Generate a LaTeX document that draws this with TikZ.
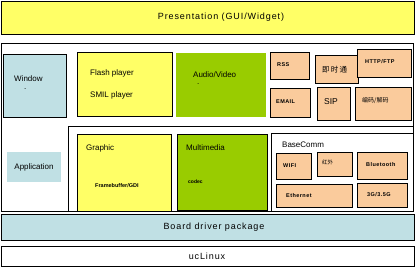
\documentclass[tikz,border=0pt]{standalone}
\usepackage{fontspec}
\setmainfont{Liberation Sans}
\newfontfamily\cjk{Noto Sans CJK SC}
\newfontfamily\spaced{Liberation Sans}[LetterSpace=10]
\newfontfamily\spacedb{Liberation Sans}[LetterSpace=8]
\definecolor{cyel}{HTML}{FFFF66}
\definecolor{cgrn}{HTML}{99CC00}
\definecolor{cblu}{HTML}{C0E0E4}
\definecolor{corg}{HTML}{FACB9C}
\begin{document}
\begin{tikzpicture}[x=1pt,y=-1pt,
  bx/.style={draw=black, line width=0.8pt, inner sep=0pt, anchor=north west},
  nb/.style={inner sep=0pt, anchor=north west},
  lbl/.style={inner sep=0pt, anchor=west, font=\fontsize{8}{9}\selectfont},
  big/.style={inner sep=0pt, font=\spaced\fontsize{9}{10}\selectfont},
  tiny/.style={inner sep=0pt, anchor=west, font=\spacedb\bfseries\fontsize{5.5}{6}\selectfont},
  orb/.style={bx, fill=corg}]
\useasboundingbox (0,0) rectangle (416,267);
% top
\node[bx, fill=cyel, minimum width=413pt, minimum height=33pt] (pres) at (1,1) {};
\node[big] (prest) at (221,17.5) {Presentation (GUI/Widget)};
% main outer
\node[bx, fill=white, minimum width=412pt, minimum height=168pt] (outer) at (1,43) {};
\node[bx, fill=white, minimum width=345pt, minimum height=85pt] (inner) at (68,126) {};
% left column
\node[bx, fill=cblu, minimum width=63pt, minimum height=63pt] (win) at (3,54) {};
\node[lbl] (wint) at (14,79) {Window};
\node[lbl] (windot) at (24,89) {.};
\node[nb, fill=cblu, minimum width=54pt, minimum height=30pt] (app) at (7,152) {};
\node[inner sep=0pt, font=\fontsize{8}{9}\selectfont] (appt) at (34,167) {Application};
% flash
\node[bx, fill=cyel, minimum width=95pt, minimum height=64pt] (flash) at (77,52) {};
\node[lbl] (flt) at (90,73.5) {Flash player};
\node[lbl] (smt) at (90,95.5) {SMIL player};
% audio video
\node[nb, fill=cgrn, minimum width=90pt, minimum height=64pt] (av) at (176,53) {};
\node[lbl] (avt) at (193,74.5) {Audio/Video};
\node[lbl] (avdot) at (197,84) {.};
% protocols
\node[orb, minimum width=39pt, minimum height=27pt] (rss) at (270,52) {};
\node[tiny] (rsst) at (277,64.5) {RSS};
\node[orb, minimum width=43pt, minimum height=28pt] (im) at (315,55) {};
\node[inner sep=0pt, anchor=west, font=\cjk\fontsize{7.5}{8}\selectfont] (imt) at (322,70) {即\,时\,通};
\node[orb, minimum width=54pt, minimum height=28pt] (http) at (357,49) {};
\node[tiny] (httpt) at (365,62) {HTTP/FTP};
\node[orb, minimum width=40pt, minimum height=29pt] (mail) at (270,88) {};
\node[tiny] (mailt) at (276,102) {EMAIL};
\node[orb, minimum width=33pt, minimum height=33pt] (sip) at (317,87) {};
\node[inner sep=0pt, anchor=west, font=\fontsize{8.5}{9}\selectfont] (sipt) at (324,102) {SIP};
\node[orb, minimum width=56pt, minimum height=33pt] (codec) at (355,87) {};
\node[inner sep=0pt, anchor=west, font=\cjk\fontsize{6}{7}\selectfont] (codect) at (362,101) {编码/解码};
% graphic
\node[bx, fill=cyel, minimum width=94pt, minimum height=77pt] (gra) at (77,134) {};
\node[lbl] (grat) at (86,148) {Graphic};
\node[inner sep=0pt, anchor=west, font=\bfseries\fontsize{5.5}{6}\selectfont] (fbt) at (95,186) {Framebuffer/GDI};
% multimedia
\node[bx, fill=cgrn, minimum width=90pt, minimum height=76pt] (mm) at (177,134) {};
\node[lbl] (mmt) at (186,148) {Multimedia};
\node[inner sep=0pt, anchor=west, font=\bfseries\fontsize{5}{6}\selectfont] (cdt) at (188,182) {codec};
% basecomm
\node[bx, fill=white, minimum width=142pt, minimum height=78pt] (bc) at (271,133) {};
\node[lbl] (bct) at (282,145) {BaseComm};
\node[orb, minimum width=35pt, minimum height=26pt] (wifi) at (276,153) {};
\node[tiny] (wifit) at (283,166) {WIFI};
\node[orb, minimum width=35pt, minimum height=24pt] (ir) at (317,152) {};
\node[inner sep=0pt, anchor=west, font=\cjk\fontsize{5.5}{6}\selectfont] (irt) at (322,162) {红外};
\node[orb, minimum width=50pt, minimum height=27pt] (bt) at (357,152) {};
\node[tiny] (btt) at (366,165) {Bluetooth};
\node[orb, minimum width=76pt, minimum height=23pt] (eth) at (276,184) {};
\node[tiny] (etht) at (286,195.5) {Ethernet};
\node[orb, minimum width=50pt, minimum height=24pt] (g3) at (357,183) {};
\node[tiny] (g3t) at (367,195) {3G/3.5G};
% bottom
\node[bx, fill=cblu, minimum width=413pt, minimum height=26pt] (bdp) at (1,214) {};
\node[big] (bdpt) at (214,227) {Board driver package};
\node[bx, fill=white, minimum width=413pt, minimum height=20pt] (ucl) at (1,246) {};
\node[big] (uclt) at (207,256) {ucLinux};
\end{tikzpicture}
\end{document}
